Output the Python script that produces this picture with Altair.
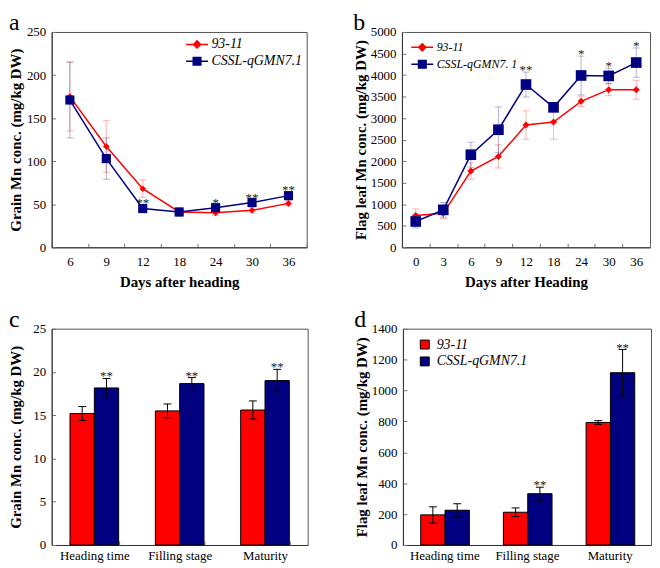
import altair as alt
import pandas as pd

SERIF = "Liberation Serif"
RED = "#ff0000"
NAVY = "#000080"
SERIES = ["93-11", "CSSL-qGMN7.1"]
COLORS = [RED, NAVY]

# ---- panel a: grain Mn over days after heading ----
days_a = ["6", "9", "12", "18", "24", "30", "36"]
a_9311 = [175, 117, 68, 41, 40, 43, 51]
a_9311_err = [40, 30, 10, 3, 3, 3, 3]
a_cssl = [171, 103, 45, 41, 46, 52, 60]
a_cssl_err = [44, 24, 4, 5, 3, 3, 4]
a_stars = ["", "", "**", "", "*", "**", "**"]

# ---- panel b: flag leaf Mn over days after heading ----
days_b = ["0", "3", "6", "9", "12", "18", "24", "30", "36"]
b_9311 = [740, 790, 1770, 2110, 2840, 2910, 3390, 3660, 3660]
b_9311_err = [150, 120, 190, 270, 330, 400, 120, 140, 220]
b_cssl = [600, 870, 2150, 2730, 3780, 3250, 3990, 3980, 4290]
b_cssl_err = [150, 170, 290, 530, 290, 100, 450, 180, 340]
b_stars = ["", "", "", "", "**", "", "*", "*", "*"]

# ---- panels c, d: stages ----
stages = ["Heading time", "Filling stage", "Maturity"]
c_9311 = [15.2, 15.5, 15.6]
c_9311_err = [0.8, 0.8, 1.05]
c_cssl = [18.15, 18.65, 19.0]
c_cssl_err = [1.1, 0.7, 1.3]
c_stars = ["**", "**", "**"]

d_9311 = [195, 212, 793]
d_9311_err = [52, 28, 12]
d_cssl = [225, 332, 1115]
d_cssl_err = [42, 42, 150]
d_stars = ["", "**", "**"]

RED_LEG = "M-1.3,0H1.3M0,-0.42L0.42,0L0,0.42L-0.42,0Z"
BLUE_LEG = "M-1.3,0H1.3M-0.45,-0.45H0.45V0.45H-0.45Z"

INSIDE_TICK = {"expr": "-4"}


def make_df(cats, key, r, re, b, be, stars):
    rows = []
    for i, c in enumerate(cats):
        rows.append({key: c, "series": SERIES[0], "value": r[i],
                     "lo": r[i] - re[i], "hi": r[i] + re[i], "star": ""})
        rows.append({key: c, "series": SERIES[1], "value": b[i],
                     "lo": b[i] - be[i], "hi": b[i] + be[i], "star": stars[i]})
    return pd.DataFrame(rows)


def y_axis(title, ymax, step):
    return alt.Axis(title=title, values=list(range(0, ymax + 1, step)), format="d",
                    tickSize=INSIDE_TICK, labelPadding=10, titlePadding=2,
                    minExtent=26)


def panel_title(letter):
    return alt.TitleParams(text=letter, anchor="start", frame="bounds", font=SERIF,
                           fontSize=24, fontWeight="normal", offset=-9, color="black")


def line_panel(days, r, re, b, be, stars, ymax, step, w, h, ytitle, xtitle,
               letter, lx, ly, rsize, bsize, lfs, loff, label_expr=None):
    df = make_df(days, "day", r, re, b, be, stars)
    x = alt.X("day:O", sort=days,
              scale=alt.Scale(type="band", paddingInner=0, paddingOuter=0),
              axis=alt.Axis(title=xtitle, labelAngle=0, tickBand="extent",
                            tickSize=INSIDE_TICK, labelPadding=12,
                            titlePadding=7))
    ysc = alt.Scale(domain=[0, ymax], nice=False, zero=True)
    yax = y_axis(ytitle, ymax, step)

    def Y(f):
        return alt.Y(f + ":Q", scale=ysc, axis=yax)

    leg_kw = dict(title=None, orient="none", legendX=lx, legendY=ly,
                  symbolSize=289, symbolStrokeWidth=1.5, symbolOpacity=1,
                  labelFont=SERIF, labelFontStyle="italic", labelFontSize=lfs,
                  labelColor="black", labelOffset=loff, rowPadding=0, padding=0)
    if label_expr:
        leg_kw["labelExpr"] = label_expr
    leg = alt.Legend(**leg_kw)

    base = alt.Chart(df)
    # legend-only layer (invisible marks), first so its legend settings win
    legend_layer = base.mark_point(filled=True, strokeWidth=1.5, opacity=0).encode(
        x=x, y=Y("value"),
        shape=alt.Shape("series:N", scale=alt.Scale(domain=SERIES,
                        range=[RED_LEG, BLUE_LEG]), legend=leg),
        fill=alt.Fill("series:N", scale=alt.Scale(domain=SERIES, range=COLORS),
                      legend=leg),
        stroke=alt.Stroke("series:N", scale=alt.Scale(domain=SERIES, range=COLORS),
                          legend=leg))
    layers = [legend_layer]
    shapes = ["diamond", "square"]
    sizes = [rsize, bsize]
    for s, col in zip(SERIES, COLORS):
        sb = base.transform_filter(alt.datum.series == s)
        layers.append(sb.mark_rule(strokeWidth=1, opacity=0.3, color=col).encode(
            x=x, y=Y("lo"), y2="hi:Q"))
        layers.append(sb.mark_tick(size=7, thickness=1, opacity=0.3, color=col).encode(
            x=x, y=Y("hi")))
        layers.append(sb.mark_tick(size=7, thickness=1, opacity=0.3, color=col).encode(
            x=x, y=Y("lo")))
    for s, col, shp, sz in zip(SERIES, COLORS, shapes, sizes):
        sb = base.transform_filter(alt.datum.series == s)
        layers.append(sb.mark_line(strokeWidth=1.5, color=col).encode(x=x, y=Y("value")))
        layers.append(sb.mark_point(filled=True, shape=shp, size=sz, opacity=1,
                                    color=col).encode(x=x, y=Y("value")))
    layers.append(base.transform_filter("datum.star != ''").mark_text(
        font=SERIF, fontSize=13, baseline="alphabetic", dy=2, color="#222").encode(
        x=x, y=Y("hi"), text="star:N"))
    return alt.layer(*layers).properties(width=w, height=h, title=panel_title(letter))


def bar_panel(r, re, b, be, stars, ymax, step, w, h, ytitle, letter, legend):
    df = make_df(stages, "stage", r, re, b, be, stars)
    x = alt.X("stage:N", sort=stages,
              scale=alt.Scale(paddingInner=0.43, paddingOuter=0.215),
              axis=alt.Axis(title=None, labelAngle=0, tickBand="extent",
                            tickSize=INSIDE_TICK, labelPadding=9))
    xo = alt.XOffset("series:N", sort=SERIES,
                     scale=alt.Scale(domain=SERIES, paddingInner=0, paddingOuter=0))
    ysc = alt.Scale(domain=[0, ymax], nice=False, zero=True)
    yax = y_axis(ytitle, ymax, step)

    def Y(f):
        return alt.Y(f + ":Q", scale=ysc, axis=yax)

    if legend:
        leg = alt.Legend(title=None, orient="none", legendX=15, legendY=9,
                         symbolType="square", symbolSize=81, symbolStrokeColor="black",
                         symbolStrokeWidth=1, symbolOpacity=1, labelFont=SERIF,
                         labelFontStyle="italic", labelFontSize=14, labelColor="black",
                         labelOffset=5, rowPadding=3, padding=0)
    else:
        leg = None
    color = alt.Color("series:N", scale=alt.Scale(domain=SERIES, range=COLORS),
                      legend=leg)
    base = alt.Chart(df)
    bars = base.mark_bar(stroke="black", strokeWidth=1, opacity=1).encode(
        x=x, xOffset=xo, y=Y("value"), color=color)
    err = base.mark_rule(color="black", strokeWidth=1).encode(
        x=x, xOffset=xo, y=Y("lo"), y2="hi:Q")
    cap_hi = base.mark_tick(color="black", size=8, thickness=1, opacity=1).encode(
        x=x, xOffset=xo, y=Y("hi"))
    cap_lo = base.mark_tick(color="black", size=8, thickness=1, opacity=1).encode(
        x=x, xOffset=xo, y=Y("lo"))
    stars_l = base.transform_filter("datum.star != ''").mark_text(
        font=SERIF, fontSize=13, baseline="alphabetic", dy=2, color="#222").encode(
        x=x, xOffset=xo, y=Y("hi"), text="star:N")
    return alt.layer(bars, err, cap_hi, cap_lo, stars_l).properties(
        width=w, height=h, title=panel_title(letter))


pa = line_panel(days_a, a_9311, a_9311_err, a_cssl, a_cssl_err, a_stars, 250, 50,
                257, 217, "Grain Mn conc. (mg/kg DW)", "Days after heading", "a",
                137, 3, 45, 85, 14, 5)
pb_ = line_panel(days_b, b_9311, b_9311_err, b_cssl, b_cssl_err, b_stars, 5000, 500,
                 250, 217, "Flag leaf Mn conc. (mg/kg DW)", "Days after Heading", "b",
                 11, 6, 50, 115, 12, 5,
                 label_expr="datum.label == 'CSSL-qGMN7.1' ? 'CSSL-qGMN7. 1' : datum.label")
pc = bar_panel(c_9311, c_9311_err, c_cssl, c_cssl_err, c_stars, 25, 5, 258, 218,
               "Grain Mn conc. (mg/kg DW)", "c", False)
pd_ = bar_panel(d_9311, d_9311_err, d_cssl, d_cssl_err, d_stars, 1400, 200, 250, 218,
                "Flag leaf Mn conc. (mg/kg DW)", "d", True)

chart = alt.vconcat(
    alt.hconcat(pa, pb_, spacing=45).resolve_scale(shape="independent", fill="independent",
                                                   stroke="independent"),
    alt.hconcat(pc, pd_, spacing=45).resolve_scale(color="independent"),
    spacing=16,
).properties(padding=0, background="white").configure_axis(
    labelFont=SERIF, labelFontSize=13, labelColor="black",
    titleFont=SERIF, titleFontSize=15, titleFontWeight="bold", titleColor="black",
    grid=False, domainColor="#333", tickColor="#777",
).configure_view(stroke="#555", strokeWidth=1)

chart.save("out.html", embed_options={"renderer": "svg", "actions": False})
